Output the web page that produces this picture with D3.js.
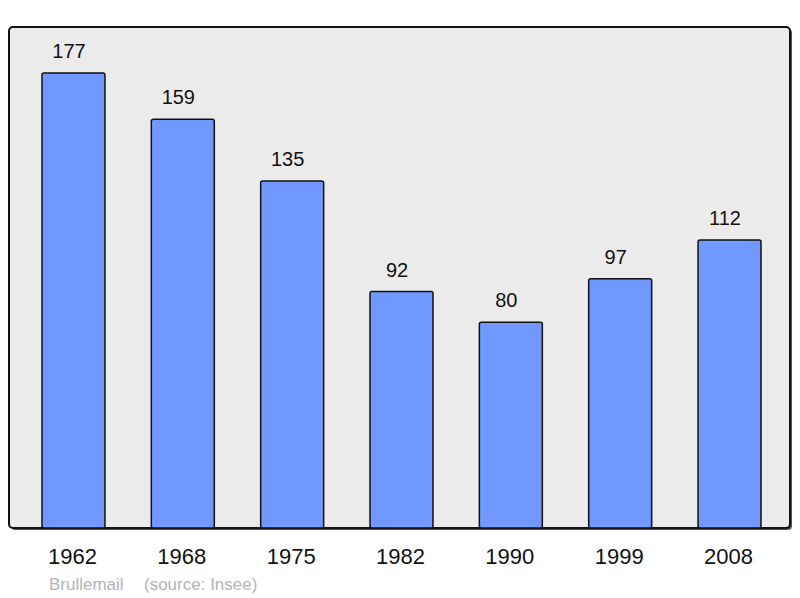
<!DOCTYPE html>
<html>
<head>
<meta charset="utf-8">
<script src="https://cdn.jsdelivr.net/npm/d3@7"></script>
<style>
  body { margin: 0; background: #fff; }
  svg { display: block; font-family: "Liberation Sans", Arial, sans-serif; }
</style>
</head>
<body>
<svg id="chart" width="800" height="598"></svg>
<script>
const years = ["1962", "1968", "1975", "1982", "1990", "1999", "2008"];
const population = [177, 159, 135, 92, 80, 97, 112];
const caption = ["Brullemail", "(source: Insee)"];

const width = 800;
const height = 598;

const svg = d3.select("#chart");

// panel shadow + panel
svg.append("rect")
    .attr("x", 11).attr("y", 29)
    .attr("width", 781).attr("height", 501)
    .attr("rx", 4)
    .attr("fill", "#555");

svg.append("rect")
    .attr("x", 9).attr("y", 27)
    .attr("width", 781).attr("height", 501)
    .attr("rx", 4)
    .attr("fill", "#ebebeb")
    .attr("stroke", "#111")
    .attr("stroke-width", 2);

const x = d3.scaleBand()
    .domain(years)
    .range([18.8, 784.2])
    .paddingInner(0.424)
    .paddingOuter(0.212);

const y = d3.scaleLinear()
    .domain([0, 177])
    .range([528, 73]);

const data = years.map((yr, i) => ({ year: yr, value: population[i] }));

svg.selectAll("rect.bar")
    .data(data)
    .enter()
    .append("rect")
    .attr("class", "bar")
    .attr("x", d => x(d.year))
    .attr("y", d => y(d.value))
    .attr("width", x.bandwidth())
    .attr("height", d => y(0) - y(d.value))
    .attr("rx", 2)
    .attr("fill", "#7098ff")
    .attr("stroke", "#111")
    .attr("stroke-width", 1.5);

// value labels (sit a little left of the bar centre)
svg.selectAll("text.value")
    .data(data)
    .enter()
    .append("text")
    .attr("class", "value")
    .attr("x", d => x(d.year) + x.bandwidth() / 2 - 4.5)
    .attr("y", d => y(d.value) - 15)
    .attr("text-anchor", "middle")
    .attr("font-size", 20)
    .attr("fill", "#111")
    .text(d => d.value);

// year labels
svg.selectAll("text.year")
    .data(data)
    .enter()
    .append("text")
    .attr("class", "year")
    .attr("x", d => x(d.year) + x.bandwidth() / 2 - 1)
    .attr("y", 564)
    .attr("text-anchor", "middle")
    .attr("font-size", 22)
    .attr("fill", "#111")
    .text(d => d.year);

// source line
svg.append("text")
    .attr("x", 49).attr("y", 590)
    .attr("font-size", 17)
    .attr("fill", "#b4b4b4")
    .text(caption[0]);

svg.append("text")
    .attr("x", 144).attr("y", 590)
    .attr("font-size", 17)
    .attr("fill", "#b4b4b4")
    .text(caption[1]);
</script>
</body>
</html>
